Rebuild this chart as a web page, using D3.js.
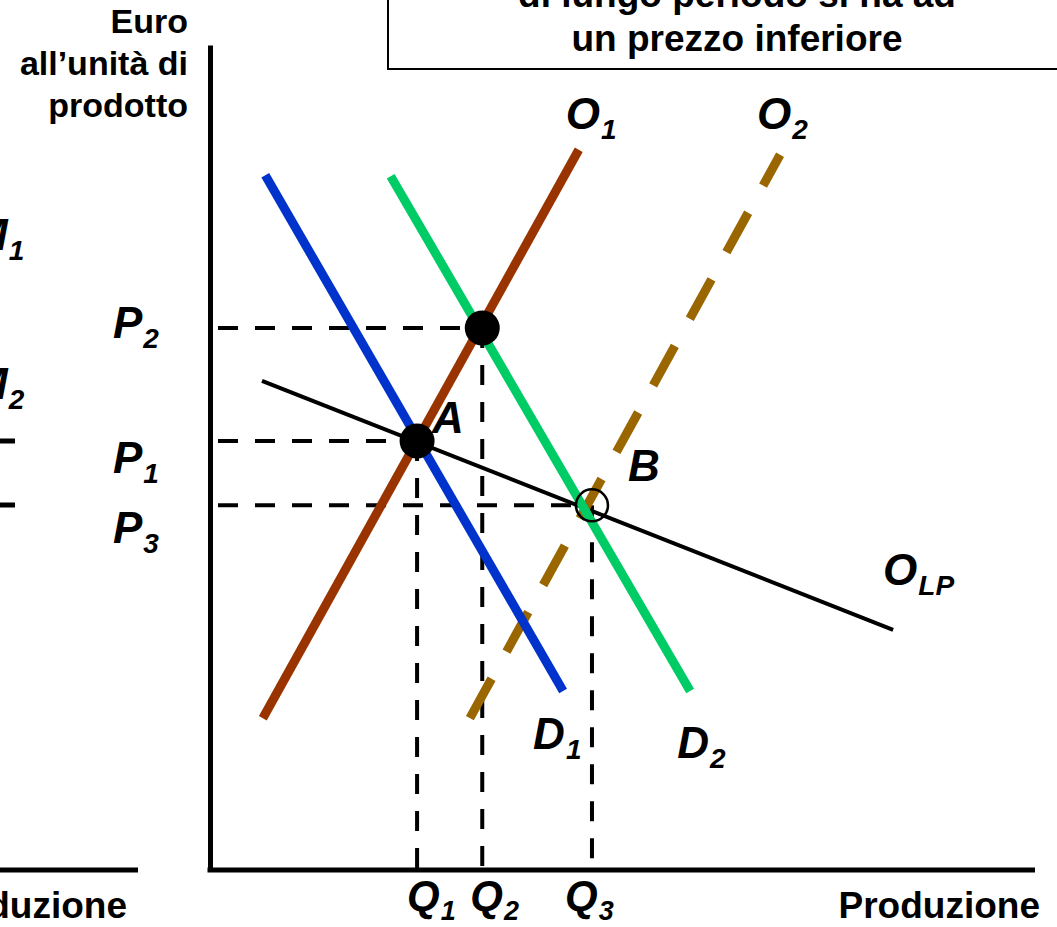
<!DOCTYPE html>
<html>
<head>
<meta charset="utf-8">
<script src="https://cdn.jsdelivr.net/npm/d3@7"></script>
<style>
  body { margin: 0; background: #fff; }
  svg { display: block; }
  text { font-family: "Liberation Sans", Arial, sans-serif; font-weight: bold; fill: #000; }
  .lab { font-style: italic; }
</style>
</head>
<body>
<div id="chart"></div>
<script>
// curve end points (quantity, price) in chart units 0-100
var curveNames = ["OLP", "O2", "O1", "D1", "D2"];
var curveStart = [[6.3, 59.3], [31.5, 18.4], [6.4, 18.4], [6.7, 84.2], [21.9, 84.1]];
var curveEnd   = [[82.8, 29.1], [69.1, 86.7], [44.7, 87.3], [42.8, 21.7], [58.2, 21.7]];

// equilibrium levels
var priceLabels = ["P1", "P2", "P3"];
var priceValues = [52.0, 65.7, 44.2];
var qtyLabels = ["Q1", "Q2", "Q3"];
var qtyValues = [25.1, 33.0, 46.3];

// equilibrium points: A, new short run point, B
var pointNames = ["A", "", "B"];
var pointQ = [25.1, 33.0, 46.3];
var pointP = [52.0, 65.7, 44.2];

var axisTitleY = ["Euro", "all\u2019unit\u00e0 di", "prodotto"];
var axisTitleX = "Produzione";
var boxLines = ["di lungo periodo si ha ad", "un prezzo inferiore"];

var width = 1057, height = 927;

var svg = d3.select("#chart").append("svg")
	.attr("width", width)
	.attr("height", height);

var x = d3.scaleLinear().domain([0, 100]).range([210, 1035]);
var y = d3.scaleLinear().domain([0, 100]).range([870, 45]);

// colori delle curve
var colors = { OLP: "#000", O2: "#996600", O1: "#993300", D1: "#0033CC", D2: "#00CC66" };
var widths = { OLP: 4, O2: 9, O1: 9, D1: 9, D2: 9 };

// etichetta con pedice
function subLabel(px, py, main, sub, size, subSize) {
	var t = svg.append("text").attr("class", "lab").attr("x", px).attr("y", py)
		.style("font-size", size + "px");
	t.append("tspan").text(main);
	t.append("tspan").attr("dy", 10).attr("dx", 1).style("font-size", subSize + "px").text(sub);
	return t;
}

// --- resto della slide precedente (tagliato a sinistra) ---
svg.append("line").attr("x1", 0).attr("x2", 138).attr("y1", 870).attr("y2", 870)
	.attr("stroke", "#000").attr("stroke-width", 5);
svg.append("text").attr("x", 127).attr("y", 918).attr("text-anchor", "end")
	.style("font-size", "37px").text(axisTitleX);
[[250, "1"], [399, "2"]].forEach(function (d) {
	subLabel(-29, d[0], "M", d[1], 44, 28);
});
[441, 505].forEach(function (py) {
	svg.append("line").attr("x1", 0).attr("x2", 15).attr("y1", py).attr("y2", py)
		.attr("stroke", "#000").attr("stroke-width", 5);
});

// --- riquadro in alto ---
svg.append("rect").attr("x", 388).attr("y", -20).attr("width", 720).attr("height", 89)
	.attr("fill", "#fff").attr("stroke", "#000").attr("stroke-width", 2);
boxLines.forEach(function (t, i) {
	svg.append("text").attr("x", 737).attr("y", 7 + i * 44).attr("text-anchor", "middle")
		.style("font-size", "37px").text(t);
});

// --- assi ---
var gx = svg.append("g").attr("transform", "translate(0," + y(0) + ")")
	.call(d3.axisBottom(x).tickValues([]).tickSizeOuter(0));
var gy = svg.append("g").attr("transform", "translate(" + x(0) + ",0)")
	.call(d3.axisLeft(y).tickValues([]).tickSizeOuter(0));
gx.select(".domain").attr("stroke", "#000").attr("stroke-width", 5)
	.attr("d", "M" + (x(0) - 2.5) + ",0H" + x(100));
gy.select(".domain").attr("stroke", "#000").attr("stroke-width", 5);

axisTitleY.forEach(function (t, i) {
	svg.append("text").attr("x", 188).attr("y", 33 + i * 42).attr("text-anchor", "end")
		.style("font-size", "34px").text(t);
});
svg.append("text").attr("x", 1040).attr("y", 918).attr("text-anchor", "end")
	.style("font-size", "37px").text(axisTitleX);

// --- linee tratteggiate di riferimento ---
var guides = svg.append("g").attr("stroke", "#000").attr("stroke-width", 4)
	.attr("stroke-dasharray", "20,17").attr("fill", "none");
pointQ.forEach(function (q, i) {
	guides.append("line").attr("x1", x(0) + 8).attr("x2", x(q))
		.attr("y1", y(pointP[i])).attr("y2", y(pointP[i]));
	guides.append("line").attr("x1", x(q)).attr("x2", x(q))
		.attr("y1", y(pointP[i])).attr("y2", y(0));
});

// --- curve ---
var line = d3.line().x(function (d) { return x(d[0]) }).y(function (d) { return y(d[1]) });
curveNames.forEach(function (n, i) {
	svg.append("path")
		.attr("d", line([curveStart[i], curveEnd[i]]))
		.attr("fill", "none")
		.attr("stroke", colors[n])
		.attr("stroke-width", widths[n])
		.attr("stroke-dasharray", n === "O2" ? "45,31" : null);
});

// --- punti di equilibrio ---
pointQ.forEach(function (q, i) {
	if (pointNames[i] === "B") {
		svg.append("circle").attr("cx", x(q)).attr("cy", y(pointP[i])).attr("r", 16)
			.attr("fill", "none").attr("stroke", "#000").attr("stroke-width", 2.5);
	} else {
		svg.append("circle").attr("cx", x(q)).attr("cy", y(pointP[i])).attr("r", 17.5)
			.attr("fill", "#000");
	}
});
var pointOffsets = { A: [15, -8], B: [36, -24] };
pointQ.forEach(function (q, i) {
	var n = pointNames[i];
	if (!n) return;
	svg.append("text").attr("class", "lab")
		.attr("x", x(q) + pointOffsets[n][0]).attr("y", y(pointP[i]) + pointOffsets[n][1])
		.style("font-size", "44px").text(n);
});

// etichette curve, relative all'estremo della curva
var curveLabelOffsets = {
	O1: [-13, -21],
	O2: [-23, -26],
	D1: [-30, 58],
	D2: [-13, 67],
	OLP: [-10, -45]
};
curveNames.forEach(function (n, i) {
	var o = curveLabelOffsets[n], e = curveEnd[i];
	subLabel(x(e[0]) + o[0], y(e[1]) + o[1], n.charAt(0), n.slice(1), 44, 28);
});

// etichette assi
var priceLabelDy = { P1: 32, P2: 10, P3: 38 };
priceLabels.forEach(function (l, i) {
	subLabel(113, y(priceValues[i]) + priceLabelDy[l], l.charAt(0), l.slice(1), 44, 28);
});
var qtyLabelDx = [-10, -12, -27];
qtyLabels.forEach(function (l, i) {
	subLabel(x(qtyValues[i]) + qtyLabelDx[i], 910, l.charAt(0), l.slice(1), 42, 27);
});
</script>
</body>
</html>
